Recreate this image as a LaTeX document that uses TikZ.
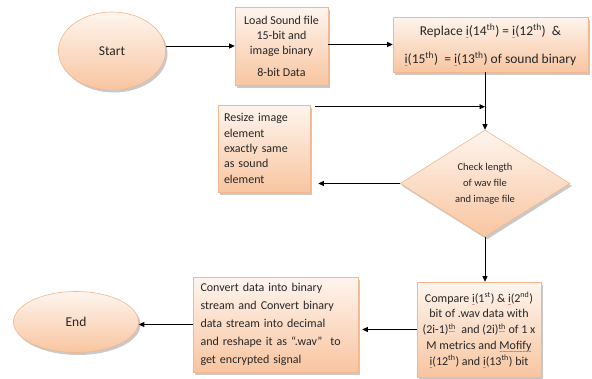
\documentclass[tikz,border=0pt]{standalone}
\usepackage{fontspec}
\setmainfont{Carlito}
\usetikzlibrary{shapes.geometric,shadows,arrows.meta}

\definecolor{peachtop}{HTML}{FEF5EE}
\definecolor{peachbot}{HTML}{F8C5A0}
\definecolor{peachline}{HTML}{F2B690}
\definecolor{inktext}{HTML}{262626}

% red spell-check style wavy underline, built from small tildes
\newsavebox\wavebox
\newcommand\redwave[1]{\sbox\wavebox{#1}%
  \rlap{\raisebox{-4.2pt}[0pt][0pt]{\hbox to \wd\wavebox{\color{red!85!black}\fontsize{5.5}{5.5}\selectfont
    \xleaders\hbox{\string~}\hfill}}}\usebox\wavebox}

\tikzset{
  peach/.style={draw=peachline, line width=0.6pt, top color=peachtop, bottom color=peachbot,
    drop shadow={shadow xshift=2pt, shadow yshift=-2.5pt, opacity=0.3, fill=black!70},
    text=inktext, inner sep=0pt},
  termnode/.style={peach, ellipse, font=\fontsize{13.5}{16}\selectfont},
  procbox/.style={peach, rectangle, font=\fontsize{12}{15}\selectfont},
  decision/.style={peach, diamond, aspect=1.6, font=\fontsize{10.5}{16}\selectfont},
  arr/.style={draw=black, line width=0.8pt, -{Triangle[length=5.5pt,width=5pt]}}
}

\begin{document}
\begin{tikzpicture}[x=1pt,y=-1pt]
\useasboundingbox (0,0) rectangle (592,378);

\node[termnode, minimum width=107pt, minimum height=78pt] (start) at (112,51) {Start};

\node[procbox, minimum width=93pt, minimum height=78pt, align=center] (load) at (281.5,46)
  {Load Sound file\\15-bit and\\image binary\\[7pt]8-bit Data};

\node[procbox, minimum width=195pt, minimum height=55pt, align=center,
      font=\fontsize{13.5}{28}\selectfont] (replace) at (490.5,44.5)
  {Replace \redwave{i}(14\textsuperscript{th}) = \redwave{i}(12\textsuperscript{th})\ \ \&\\
   \redwave{i}(15\textsuperscript{th})\ \ = \redwave{i}(13\textsuperscript{th})\ of sound binary};

\node[procbox, minimum width=92pt, minimum height=87pt, text width=80pt, align=left,
      font=\fontsize{12}{15.3}\selectfont] (resize) at (264,148.5)
  {Resize image\\element\\exactly same\\as sound\\element};

\node[decision, minimum width=170pt, minimum height=107pt, align=center] (dia) at (485,183.5)
  {Check length\\of wav file\\and image file};

\node[procbox, minimum width=124pt, minimum height=95pt, align=center,
      font=\fontsize{12}{15.8}\selectfont] (compare) at (479,329.5)
  {Compare \redwave{i}(1\textsuperscript{st}) \& \redwave{i}(2\textsuperscript{nd})\\
   bit of .wav data with\\
   (2i-1)\textsuperscript{\redwave{th}}\ \ and (2i)\textsuperscript{\redwave{th}} of 1 x\\
   M metrics and \redwave{Mofify}\\
   \redwave{i}(12\textsuperscript{th}) and \redwave{i}(13\textsuperscript{th}) bit};

\node[procbox, minimum width=165pt, minimum height=95pt, text width=150pt, align=left,
      font=\fontsize{12}{18}\selectfont] (convert) at (275.5,324.5)
  {Convert data into binary\\stream and Convert binary\\data stream into decimal\\and reshape it as ``.wav''\ \ to\\get encrypted signal};

\node[termnode, minimum width=125pt, minimum height=61pt] (end) at (76,322) {End};

% connectors
\draw[arr] (start.east |- load.west) -- (load.west);
\draw[arr] (load.east |- replace.west) -- (replace.west);
\draw[arr] (replace.south -| dia.north) -- (dia.north);
\draw[arr] ([xshift=5pt,yshift=-2pt]resize.north east) -- ([yshift=-2pt]resize.north east -| dia.north);
\draw[arr] (dia.west) -- ([xshift=8pt]resize.east |- dia.west);
\draw[arr] (dia.south) -- (dia.south |- compare.north);
\draw[arr] (compare.west) -- ([xshift=4pt]convert.east |- compare.west);
\draw[arr] (convert.west) -- (convert.west -| end.east);
\end{tikzpicture}
\end{document}
